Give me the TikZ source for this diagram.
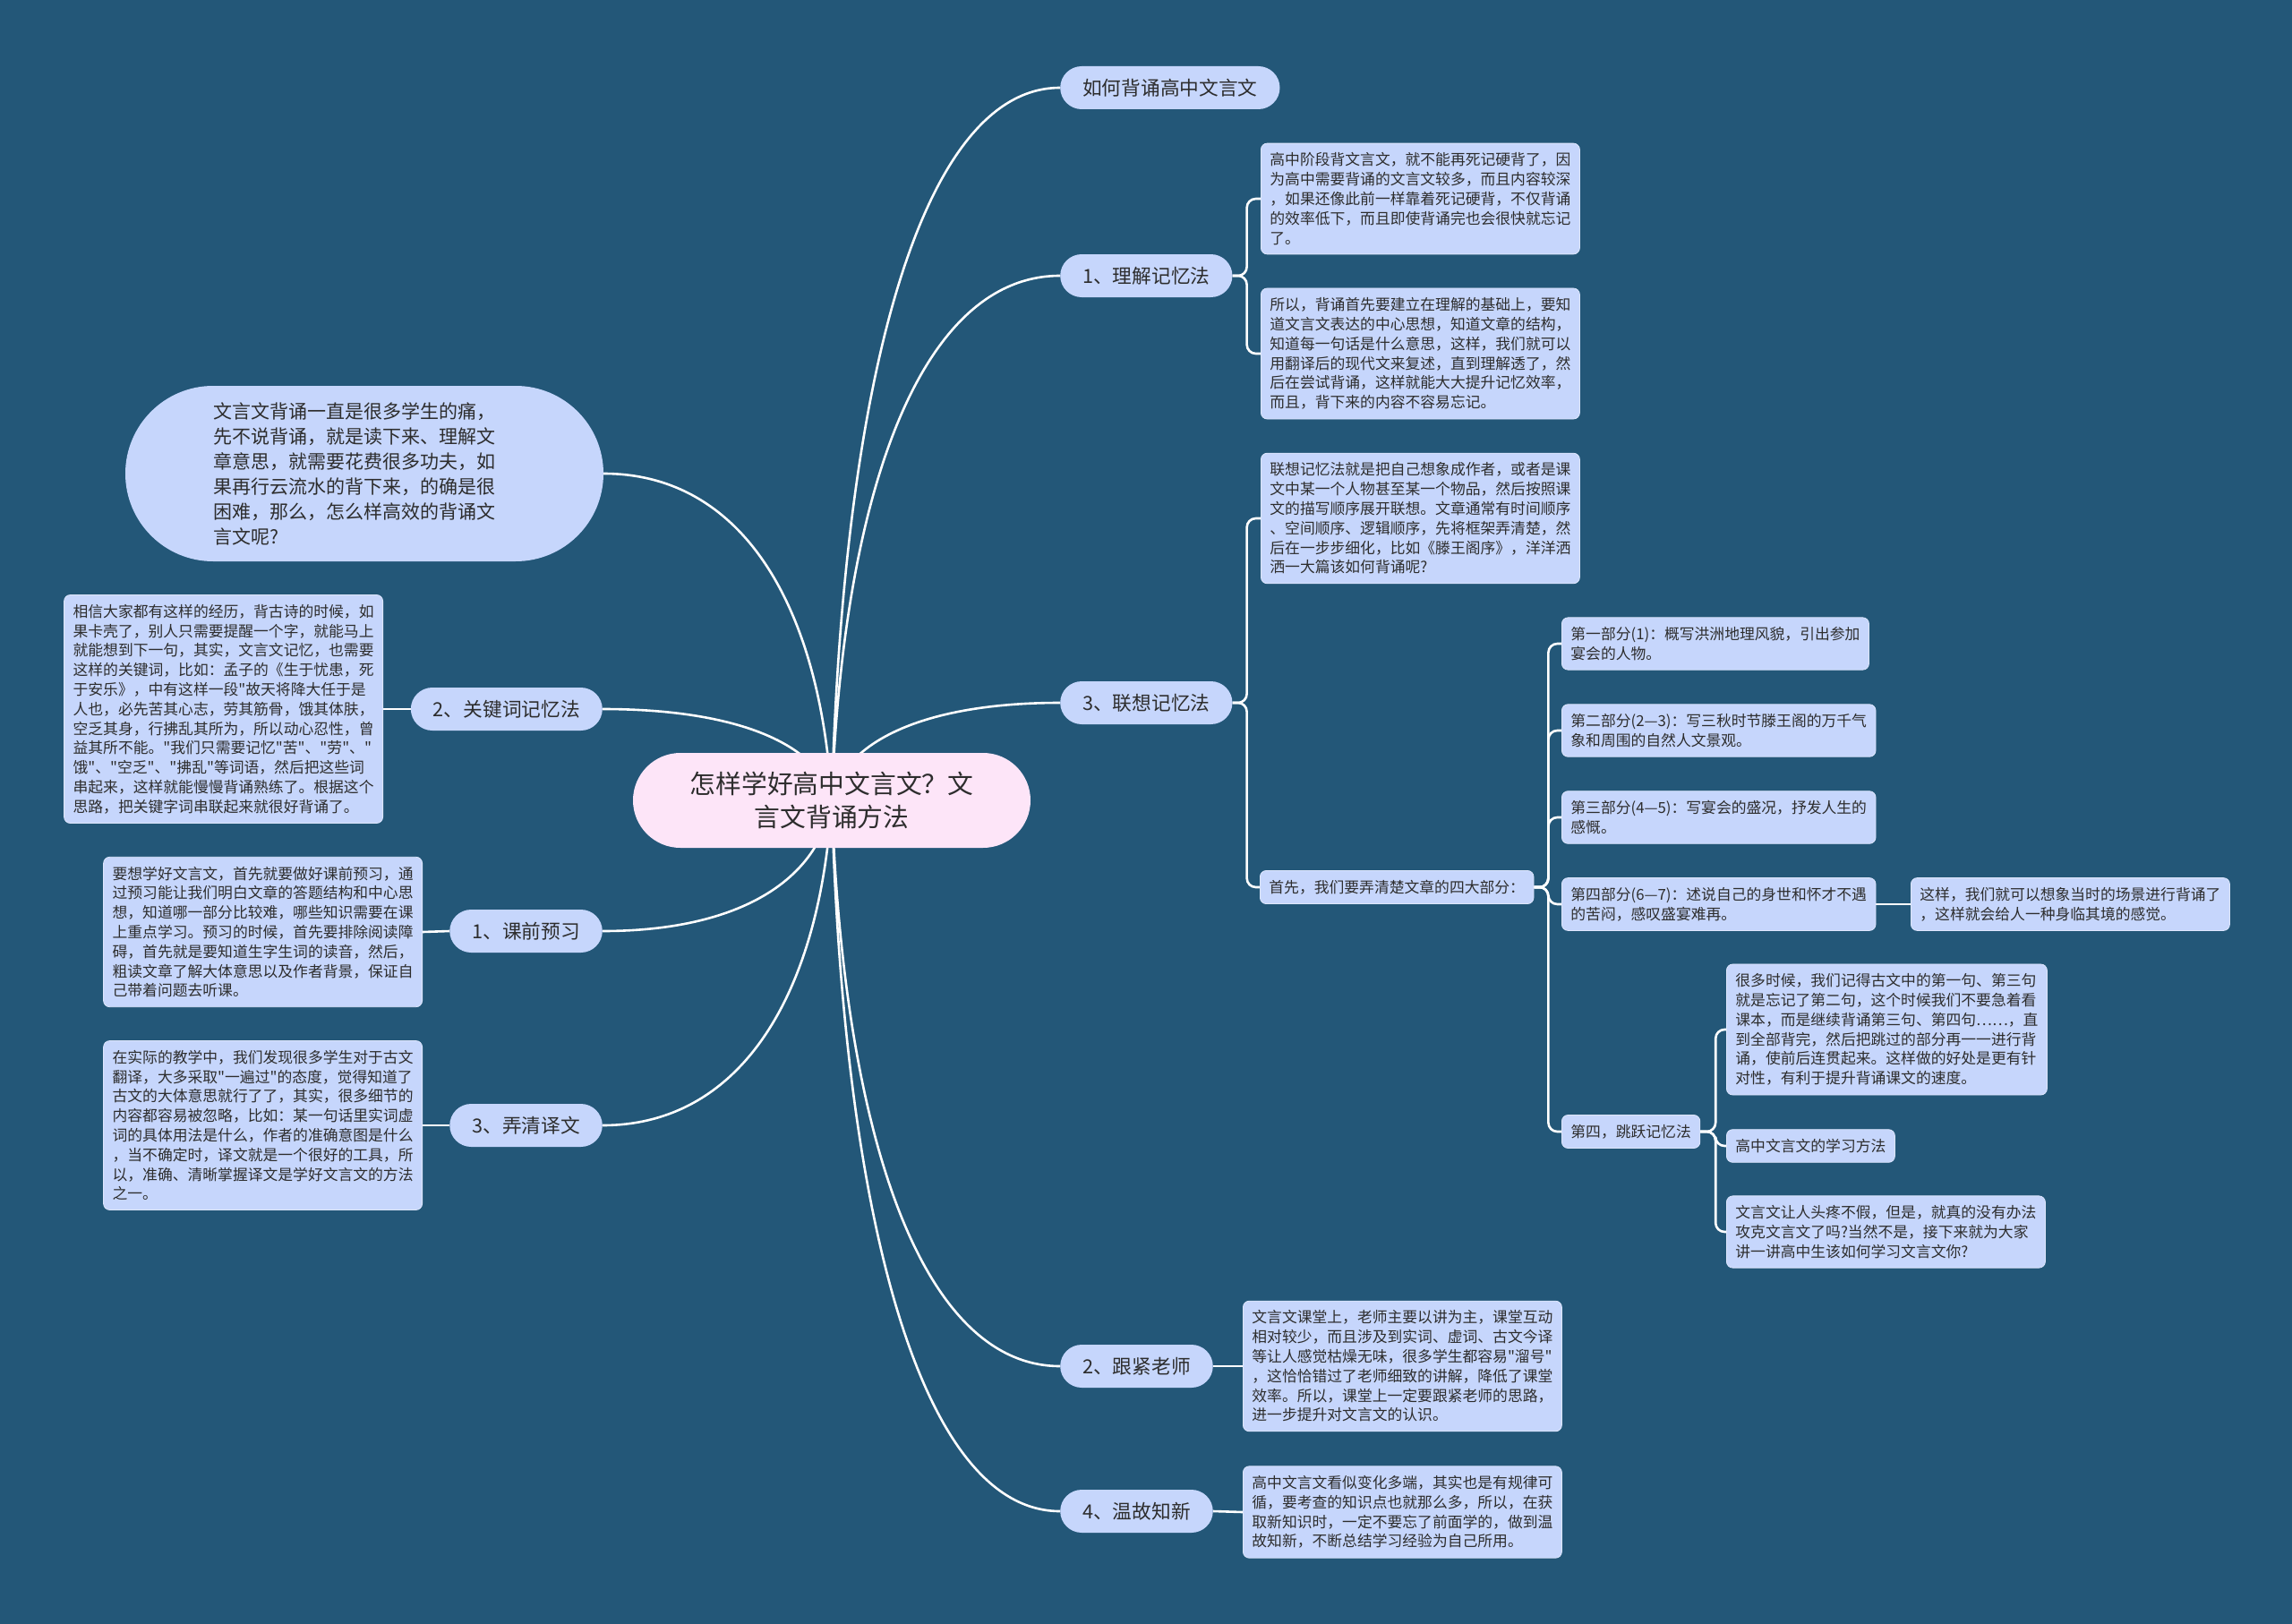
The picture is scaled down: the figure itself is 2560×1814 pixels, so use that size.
\documentclass[tikz,border=0pt]{standalone}
\usepackage{fontspec}
\newfontfamily\cjk{Noto Sans CJK SC}
\definecolor{bgc}{RGB}{35,87,120}
\definecolor{boxc}{RGB}{198,214,252}
\definecolor{rootc}{RGB}{253,229,248}
\definecolor{txtc}{RGB}{45,45,45}
\pgfdeclarelayer{bg}\pgfdeclarelayer{lines}\pgfsetlayers{bg,lines,main}
\tikzset{
 root/.style={fill=rootc, rounded corners=53pt, minimum width=444pt, minimum height=106pt, font=\cjk\fontsize{28.8}{37}\selectfont, text=txtc, align=center},
 branch/.style={fill=boxc, rounded corners=24pt, minimum height=48pt, inner xsep=25pt, font=\cjk\fontsize{21.7}{26}\selectfont, text=txtc},
 note/.style={fill=boxc, draw=boxc!60!white, line width=0.8pt, rounded corners=7pt, inner xsep=10pt, inner ysep=10.5pt, align=left, font=\cjk\fontsize{16.8}{21.8}\selectfont, text=txtc},
 intro/.style={fill=boxc, rounded corners=98pt, minimum width=534pt, minimum height=196pt, text width=338pt, align=left, font=\cjk\fontsize{21}{28}\selectfont, text=txtc},
 link/.style={draw=white, line width=2.6pt},
 brk/.style={link, rounded corners=10pt},
}
\begin{document}
\begin{tikzpicture}[x=1pt,y=-1pt]
\path[use as bounding box] (0,0) rectangle (2560,1814);
\begin{pgfonlayer}{bg}
\fill[bgc] (0,0) rectangle (2560,1814);
\end{pgfonlayer}

\node[root] (root) at (929,894) {怎样学好高中文言文？文\\言文背诵方法};

\node[branch, anchor=west] (r0) at (1184,98) {如何背诵高中文言文};
\node[branch, anchor=west] (r1) at (1184,308) {1、理解记忆法};
\node[branch, anchor=west] (r3) at (1184,785) {3、联想记忆法};
\node[branch, anchor=west] (r2) at (1184,1526) {2、跟紧老师};
\node[branch, anchor=west] (r4) at (1184,1688) {4、温故知新};
\node[branch, anchor=east] (l2) at (673,792) {2、关键词记忆法};
\node[branch, anchor=east] (l1) at (673,1040) {1、课前预习};
\node[branch, anchor=east] (l3) at (673,1257) {3、弄清译文};

\node[intro] (in) at (407,529) {文言文背诵一直是很多学生的痛，\\先不说背诵，就是读下来、理解文\\章意思，就需要花费很多功夫，如\\果再行云流水的背下来，的确是很\\困难，那么，怎么样高效的背诵文\\言文呢?};

\node[note, anchor=west] (a1) at (1408,222) {高中阶段背文言文，就不能再死记硬背了，因\\为高中需要背诵的文言文较多，而且内容较深\\，如果还像此前一样靠着死记硬背，不仅背诵\\的效率低下，而且即使背诵完也会很快就忘记\\了。};
\node[note, anchor=west] (a2) at (1408,395) {所以，背诵首先要建立在理解的基础上，要知\\道文言文表达的中心思想，知道文章的结构，\\知道每一句话是什么意思，这样，我们就可以\\用翻译后的现代文来复述，直到理解透了，然\\后在尝试背诵，这样就能大大提升记忆效率，\\而且，背下来的内容不容易忘记。};
\node[note, anchor=west] (b1) at (1408,579) {联想记忆法就是把自己想象成作者，或者是课\\文中某一个人物甚至某一个物品，然后按照课\\文的描写顺序展开联想。文章通常有时间顺序\\、空间顺序、逻辑顺序，先将框架弄清楚，然\\后在一步步细化，比如《滕王阁序》，洋洋洒\\洒一大篇该如何背诵呢?};
\node[note, anchor=west] (b2) at (1407,991) {首先，我们要弄清楚文章的四大部分：};
\node[note, anchor=west] (c1) at (1744,719) {第一部分(1)：概写洪洲地理风貌，引出参加\\宴会的人物。};
\node[note, anchor=west] (c2) at (1744,816) {第二部分(2—3)：写三秋时节滕王阁的万千气\\象和周围的自然人文景观。};
\node[note, anchor=west] (c3) at (1744,913) {第三部分(4—5)：写宴会的盛况，抒发人生的\\感慨。};
\node[note, anchor=west] (c4) at (1744,1010) {第四部分(6—7)：述说自己的身世和怀才不遇\\的苦闷，感叹盛宴难再。};
\node[note, anchor=west] (d) at (2134,1010) {这样，我们就可以想象当时的场景进行背诵了\\，这样就会给人一种身临其境的感觉。};
\node[note, anchor=west] (f) at (1744,1264) {第四，跳跃记忆法};
\node[note, anchor=west] (e1) at (1928,1150) {很多时候，我们记得古文中的第一句、第三句\\就是忘记了第二句，这个时候我们不要急着看\\课本，而是继续背诵第三句、第四句……，直\\到全部背完，然后把跳过的部分再一一进行背\\诵，使前后连贯起来。这样做的好处是更有针\\对性，有利于提升背诵课文的速度。};
\node[note, anchor=west] (e2) at (1928,1280) {高中文言文的学习方法};
\node[note, anchor=west] (e3) at (1928,1376) {文言文让人头疼不假，但是，就真的没有办法\\攻克文言文了吗?当然不是，接下来就为大家\\讲一讲高中生该如何学习文言文你?};
\node[note, anchor=west] (g1) at (1388,1526) {文言文课堂上，老师主要以讲为主，课堂互动\\相对较少，而且涉及到实词、虚词、古文今译\\等让人感觉枯燥无味，很多学生都容易"溜号"\\，这恰恰错过了老师细致的讲解，降低了课堂\\效率。所以，课堂上一定要跟紧老师的思路，\\进一步提升对文言文的认识。};
\node[note, anchor=west] (h1) at (1388,1689) {高中文言文看似变化多端，其实也是有规律可\\循，要考查的知识点也就那么多，所以，在获\\取新知识时，一定不要忘了前面学的，做到温\\故知新，不断总结学习经验为自己所用。};

\node[note, anchor=east] (k) at (428,792) {相信大家都有这样的经历，背古诗的时候，如\\果卡壳了，别人只需要提醒一个字，就能马上\\就能想到下一句，其实，文言文记忆，也需要\\这样的关键词，比如：孟子的《生于忧患，死\\于安乐》，中有这样一段"故天将降大任于是\\人也，必先苦其心志，劳其筋骨，饿其体肤，\\空乏其身，行拂乱其所为，所以动心忍性，曾\\益其所不能。"我们只需要记忆"苦"、"劳"、"\\饿"、"空乏"、"拂乱"等词语，然后把这些词\\串起来，这样就能慢慢背诵熟练了。根据这个\\思路，把关键字词串联起来就很好背诵了。};
\node[note, anchor=east] (p) at (472,1041) {要想学好文言文，首先就要做好课前预习，通\\过预习能让我们明白文章的答题结构和中心思\\想，知道哪一部分比较难，哪些知识需要在课\\上重点学习。预习的时候，首先要排除阅读障\\碍，首先就是要知道生字生词的读音，然后，\\粗读文章了解大体意思以及作者背景，保证自\\己带着问题去听课。};
\node[note, anchor=east] (t) at (472,1257) {在实际的教学中，我们发现很多学生对于古文\\翻译，大多采取"一遍过"的态度，觉得知道了\\古文的大体意思就行了了，其实，很多细节的\\内容都容易被忽略，比如：某一句话里实词虚\\词的具体用法是什么，作者的准确意图是什么\\，当不确定时，译文就是一个很好的工具，所\\以，准确、清晰掌握译文是学好文言文的方法\\之一。};

\begin{pgfonlayer}{lines}
\draw[link] (root.center) .. controls +(13,-478) and +(-153,0) .. (r0.west);
\draw[link] (root.center) .. controls +(13,-352) and +(-153,0) .. (r1.west);
\draw[link] (root.center) .. controls +(13,-65) and +(-153,0) .. (r3.west);
\draw[link] (root.center) .. controls +(13,379) and +(-153,0) .. (r2.west);
\draw[link] (root.center) .. controls +(13,476) and +(-153,0) .. (r4.west);
\draw[link] (root.center) .. controls +(-13,-219) and +(154,0) .. (in.east);
\draw[link] (root.center) .. controls +(-13,-61) and +(154,0) .. (l2.east);
\draw[link] (root.center) .. controls +(-13,88) and +(154,0) .. (l1.east);
\draw[link] (root.center) .. controls +(-13,218) and +(154,0) .. (l3.east);

\draw[brk] (r1.east) -- ++(16,0) |- (a1.west);
\draw[brk] (r1.east) -- ++(16,0) |- (a2.west);
\draw[brk] (r3.east) -- ++(16,0) |- (b1.west);
\draw[brk] (r3.east) -- ++(16,0) |- (b2.west);
\draw[brk] (b2.east) -- ++(16,0) |- (c1.west);
\draw[brk] (b2.east) -- ++(16,0) |- (c2.west);
\draw[brk] (b2.east) -- ++(16,0) |- (c3.west);
\draw[brk] (b2.east) -- ++(16,0) |- (c4.west);
\draw[brk] (b2.east) -- ++(16,0) |- (f.west);
\draw[link] (c4.east) -- (d.west);
\draw[brk] (f.east) -- ++(17,0) |- (e1.west);
\draw[brk] (f.east) -- ++(17,0) |- (e2.west);
\draw[brk] (f.east) -- ++(17,0) |- (e3.west);
\draw[link] (r2.east) -- (g1.west);
\draw[link] (r4.east) -- (h1.west);
\draw[link] (l2.west) -- (k.east);
\draw[link] (l1.west) -- (p.east);
\draw[link] (l3.west) -- (t.east);
\end{pgfonlayer}
\end{tikzpicture}
\end{document}
